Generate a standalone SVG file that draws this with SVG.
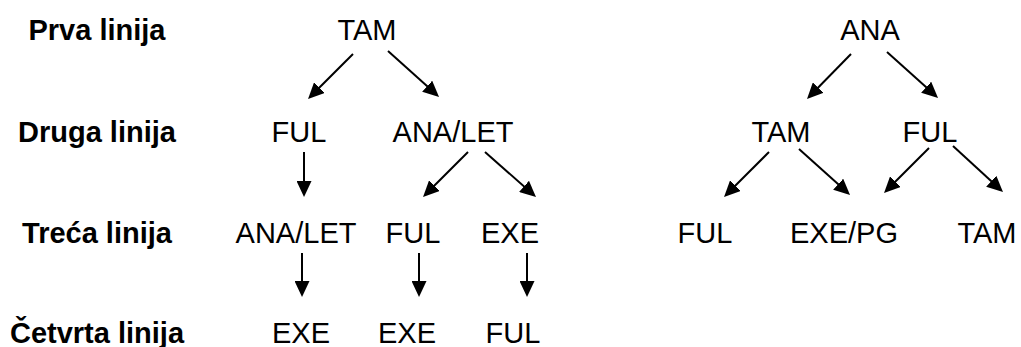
<svg xmlns="http://www.w3.org/2000/svg" width="1021" height="347" viewBox="0 0 1021 347">
<style>
text{font-family:"Liberation Sans",Arial,sans-serif;font-size:29px;fill:#000}
.lbl{font-weight:bold;text-anchor:middle}
.n{text-anchor:middle}
.c line{stroke:#000;stroke-width:2;marker-end:url(#ah)}
</style>
<defs>
<marker id="ah" markerUnits="userSpaceOnUse" markerWidth="16" markerHeight="15" refX="8" refY="7.5" orient="auto">
<path d="M0,0 L16,7.5 L0,15 z" fill="#000"/>
</marker>
</defs>
<rect width="1021" height="347" fill="#fff"/>
<g id="labels">
<text class="lbl" x="97" y="40">Prva linija</text>
<text class="lbl" x="97" y="142">Druga linija</text>
<text class="lbl" x="97" y="243">Treća linija</text>
<text class="lbl" x="97" y="343">Četvrta linija</text>
</g>
<g id="L-TAM"><text class="n" x="367" y="40">TAM</text></g>
<g id="L-FUL2"><text class="n" x="299" y="142">FUL</text></g>
<g id="L-ANALET2"><text class="n" x="453" y="142">ANA/LET</text></g>
<g id="L-ANALET3"><text class="n" x="296" y="243">ANA/LET</text></g>
<g id="L-FUL3"><text class="n" x="413" y="243">FUL</text></g>
<g id="L-EXE3"><text class="n" x="510" y="243">EXE</text></g>
<g id="L-EXE4a"><text class="n" x="301" y="343">EXE</text></g>
<g id="L-EXE4b"><text class="n" x="407" y="343">EXE</text></g>
<g id="L-FUL4"><text class="n" x="513" y="343">FUL</text></g>
<g id="R-ANA"><text class="n" x="870" y="40">ANA</text></g>
<g id="R-TAM2"><text class="n" x="781" y="142">TAM</text></g>
<g id="R-FUL2"><text class="n" x="930" y="142">FUL</text></g>
<g id="R-FUL3"><text class="n" x="705" y="243">FUL</text></g>
<g id="R-EXEPG3"><text class="n" x="844" y="243">EXE/PG</text></g>
<g id="R-TAM3"><text class="n" x="987" y="243">TAM</text></g>
<g id="connectors" class="c">
<line x1="353" y1="54" x2="313.7" y2="93.3"/>
<line x1="388" y1="51" x2="433.1" y2="91.6"/>
<line x1="304" y1="152" x2="304" y2="189"/>
<line x1="468" y1="152" x2="428.7" y2="191.3"/>
<line x1="485" y1="152" x2="530" y2="191.7"/>
<line x1="302" y1="253" x2="302" y2="289"/>
<line x1="419" y1="253" x2="419" y2="289"/>
<line x1="527" y1="253" x2="527" y2="289"/>
<line x1="851" y1="54" x2="812.6" y2="93.3"/>
<line x1="887" y1="52" x2="932.1" y2="92.6"/>
<line x1="769" y1="152" x2="729.7" y2="191.3"/>
<line x1="799" y1="149" x2="844.1" y2="189.6"/>
<line x1="929" y1="148" x2="889.7" y2="187.3"/>
<line x1="953" y1="146" x2="997.1" y2="186.6"/>
</g>
</svg>
